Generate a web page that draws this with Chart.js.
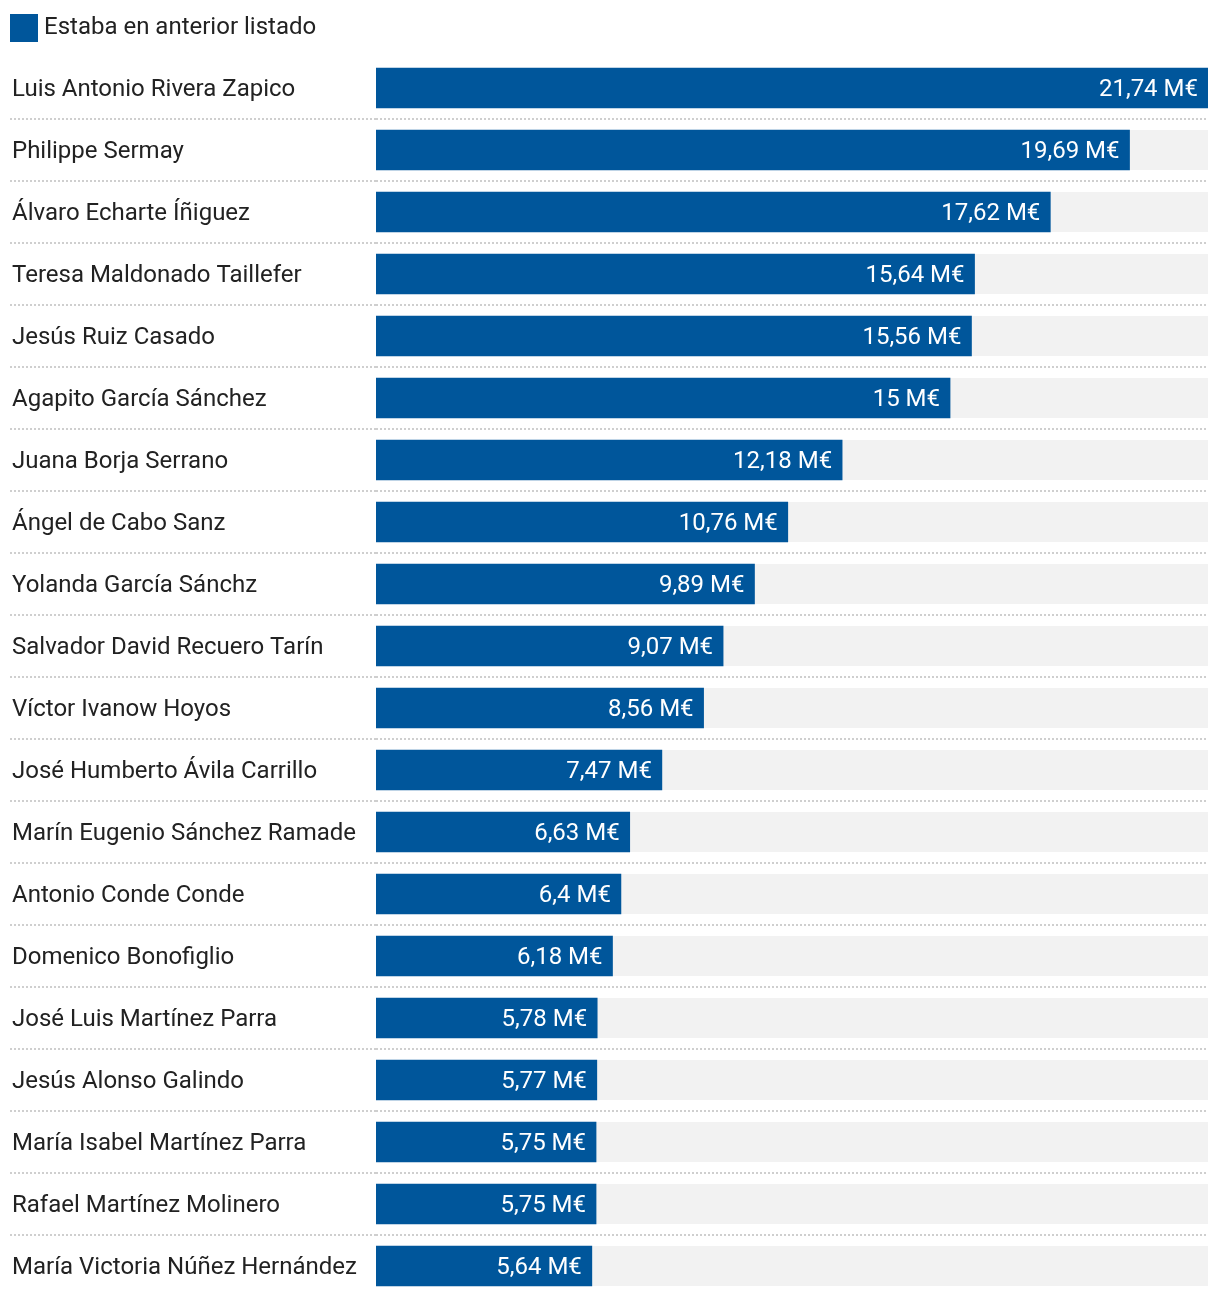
<!DOCTYPE html>
<html>
<head>
<meta charset="utf-8">
<script src="https://cdn.jsdelivr.net/npm/chart.js@4.4.1/dist/chart.umd.min.js"></script>
<style>
  body { margin: 0; background: #fff; font-family: Roboto, sans-serif; }
  #wrap { position: relative; width: 1220px; height: 1298px; }
  #legend { position: absolute; left: 10px; top: 14px; display: flex; align-items: center; font-size: 24px; color: #222; line-height: 28px; }
  #legend .box { width: 28px; height: 28px; background: #00569b; margin-right: 6px; }
  #legend .txt { position: relative; top: -2px; }
</style>
</head>
<body>
<div id="wrap">
  <div id="legend"><span class="box"></span><span class="txt">Estaba en anterior listado</span></div>
  <canvas id="chart"></canvas>
</div>
<script>
// Datos (millones de euros)
const nombres = [
  'Luis Antonio Rivera Zapico',
  'Philippe Sermay',
  'Álvaro Echarte Íñiguez',
  'Teresa Maldonado Taillefer',
  'Jesús Ruiz Casado',
  'Agapito García Sánchez',
  'Juana Borja Serrano',
  'Ángel de Cabo Sanz',
  'Yolanda García Sánchz',
  'Salvador David Recuero Tarín',
  'Víctor Ivanow Hoyos',
  'José Humberto Ávila Carrillo',
  'Marín Eugenio Sánchez Ramade',
  'Antonio Conde Conde',
  'Domenico Bonofiglio',
  'José Luis Martínez Parra',
  'Jesús Alonso Galindo',
  'María Isabel Martínez Parra',
  'Rafael Martínez Molinero',
  'María Victoria Núñez Hernández'
];
const importes = [21.74, 19.69, 17.62, 15.64, 15.56, 15, 12.18, 10.76, 9.89, 9.07,
                  8.56, 7.47, 6.63, 6.4, 6.18, 5.78, 5.77, 5.75, 5.75, 5.64];
const serieNombre = 'Estaba en anterior listado';

const AZUL = '#00569b';
const GRIS_FONDO = '#f2f2f2';
const LINEA = '#cfcfcf';

const formato = v => String(v).replace('.', ',') + ' M€';

// Fondo gris detrás de cada barra
const fondoBarras = {
  id: 'fondoBarras',
  beforeDatasetsDraw(chart) {
    const { ctx, chartArea } = chart;
    const meta = chart.getDatasetMeta(0);
    ctx.save();
    ctx.fillStyle = GRIS_FONDO;
    meta.data.forEach(bar => {
      const { y, height } = bar.getProps(['y', 'height'], true);
      ctx.fillRect(chartArea.left, y - height / 2, chartArea.right - chartArea.left, height);
    });
    ctx.restore();
  }
};

// Etiquetas de valor dentro de la barra
const etiquetasValor = {
  id: 'etiquetasValor',
  afterDatasetsDraw(chart) {
    const ctx = chart.ctx;
    const meta = chart.getDatasetMeta(0);
    ctx.save();
    ctx.font = '24px Roboto';
    ctx.fillStyle = '#fff';
    ctx.textAlign = 'right';
    ctx.textBaseline = 'middle';
    meta.data.forEach((bar, i) => {
      const { x, y } = bar.getProps(['x', 'y'], true);
      ctx.fillText(formato(importes[i]), x - 10, y + 2);
    });
    ctx.restore();
  }
};

// sin línea arriba del primero ni debajo del último
const colorLinea = c => (c.index === undefined || c.index === 0 || c.index >= nombres.length) ? 'rgba(0,0,0,0)' : LINEA;

new Chart(document.getElementById('chart'), {
  type: 'bar',
  data: {
    labels: nombres,
    datasets: [{
      label: serieNombre,
      data: importes,
      backgroundColor: AZUL,
      barThickness: 40
    }]
  },
  options: {
    indexAxis: 'y',
    responsive: true,
    maintainAspectRatio: false,
    animation: false,
    layout: { padding: { top: 57, left: 12, right: 12, bottom: 1 } },
    scales: {
      x: { display: false, min: 0, max: 21.74 },
      y: {
        afterFit: s => { s.width = 364; s.paddingTop = 0; s.paddingBottom = 0; },
        ticks: {
          crossAlign: 'far',
          labelOffset: 2,
          color: '#222',
          font: { family: 'Roboto', size: 24 }
        },
        grid: {
          offset: true,
          color: colorLinea,
          lineWidth: 2,
          drawTicks: true,
          tickLength: 366,
          tickColor: colorLinea,
          tickWidth: 2,
          tickBorderDash: [2, 2]
        },
        border: { display: false, dash: [2, 2] }
      }
    },
    plugins: {
      legend: { display: false },
      tooltip: { enabled: false }
    }
  },
  plugins: [fondoBarras, etiquetasValor]
});
</script>
</body>
</html>
